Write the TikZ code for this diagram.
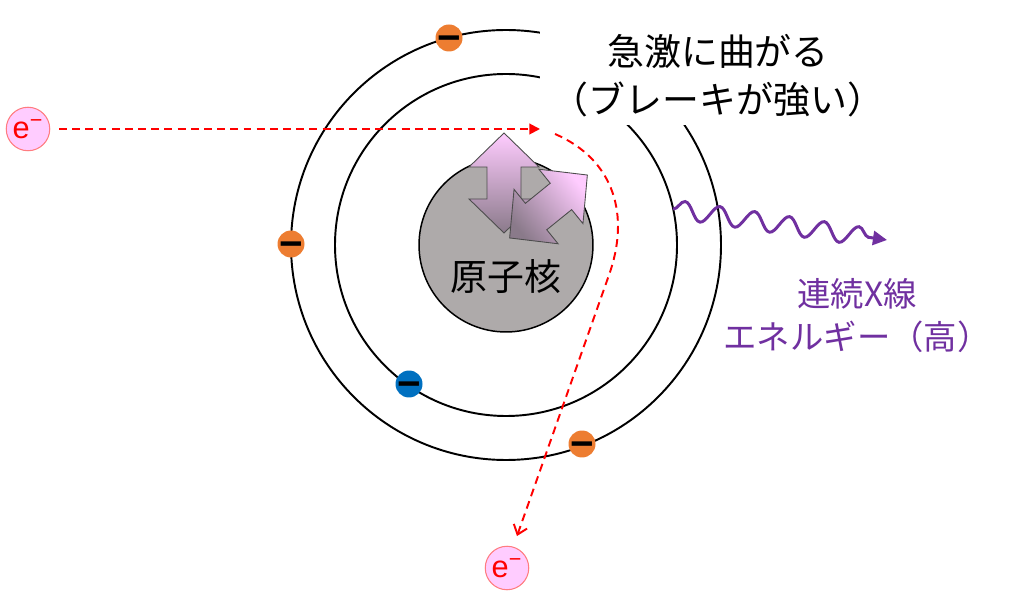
\documentclass[tikz,border=0pt]{standalone}
\usepackage{fontspec}
\setmainfont{Noto Sans CJK JP}
\newfontfamily\latinfont{Liberation Sans}
\usetikzlibrary{arrows.meta,decorations.pathmorphing}
\definecolor{eorange}{HTML}{ED7D31}
\definecolor{eblue}{HTML}{0070C0}
\definecolor{epink}{HTML}{FFCCFF}
\definecolor{ering}{HTML}{FF7C80}
\definecolor{xpurple}{HTML}{7030A0}
\definecolor{nucgray}{HTML}{AEAAAA}
\definecolor{kickdark}{RGB}{138,122,138}
\tikzset{
  orbit/.style={line width=1.1pt},
  shell/.style={circle, minimum size=0.54cm, inner sep=0pt, font=\latinfont\fontsize{23}{23}\selectfont\bfseries},
  ebeam/.style={circle, draw=ering, fill=epink, line width=0.6pt, minimum size=0.87cm, inner sep=0pt, text=red, font=\latinfont\fontsize{17.5}{17.5}\selectfont},
  track/.style={red, line width=1.1pt, dash pattern=on 4.5pt off 3pt},
  kick/.style={draw=black!70, line width=0.5pt, top color=epink, bottom color=kickdark},
}
\def\kickarrow(#1)(#2){\shade[kick, shading angle=#2, shift={(#1)}, rotate=#2] (0,-50) -- (35,-16) -- (17,-16) -- (17,16) -- (35,16) -- (0,50) -- (-35,16) -- (-17,16) -- (-17,-16) -- (-35,-16) -- cycle;}
\def\charge{\raisebox{-0.33em}[0.1em][0.1em]{−}}

\begin{document}
\begin{tikzpicture}[x=0.02cm, y=-0.02cm]
			%%%%% START %%%%%
			\useasboundingbox (0,0) rectangle (1024,597);
			
			\draw[orbit] (506,245) circle (215);
			\draw[orbit] (506,245) circle (171);
			
			\node[circle, draw, fill=nucgray, line width=0.85pt, minimum size=3.48cm] (nuc) at (506,245) {};
			\node[font=\fontsize{21}{21}\selectfont] (nuclabel) at (506,277) {原子核};
			
			\kickarrow(504,183)(0)
			\kickarrow(548.5,206.5)(-51)
			
			\node[ebeam] (ein) at (28,129) {e\textsuperscript{−}};
			\node[ebeam] (eout) at (507,568) {e\textsuperscript{−}};
			\coordinate (near) at (540,129);
			\coordinate (bend) at (555,134);
			\coordinate (away) at (517,536);
			\draw[track, shorten <=5pt, -{Triangle[length=6pt,width=6pt]}] (ein) -- (near);
			\draw[track, -{Straight Barb[length=5pt,width=8pt]}] (bend) .. controls (615,160) and (630,216) .. (609,275) -- (away);
			
			\node[fill=white, minimum width=7.12cm, minimum height=1.96cm, align=center, font=\fontsize{21}{27.3}\selectfont] (brake) at (718,76) {急激に曲がる\\（ブレーキが強い）};
			
			\node[shell, fill=eorange] (s1) at (449,38) {\charge};
			\node[shell, fill=eorange] (s2) at (291,244) {\charge};
			\node[shell, fill=eorange] (s3) at (582,444) {\charge};
			\node[shell, fill=eblue] (s4) at (409,384) {\charge};
			
			\coordinate (emit) at (673,209);
			\coordinate (xray) at (887,240);
			\draw[xpurple, line width=1.7pt, decorate, decoration={snake, amplitude=5.2pt, segment length=20pt, post length=6pt}, -{Triangle[length=8pt,width=8pt]}] (emit) -- (xray);
			\node[text=xpurple, align=center, font=\fontsize{19}{24.5}\selectfont] (xlabel) at (857,316) {連続X線\\エネルギー（高）};
			
			%%%%% END %%%%%
\end{tikzpicture}
\end{document}
